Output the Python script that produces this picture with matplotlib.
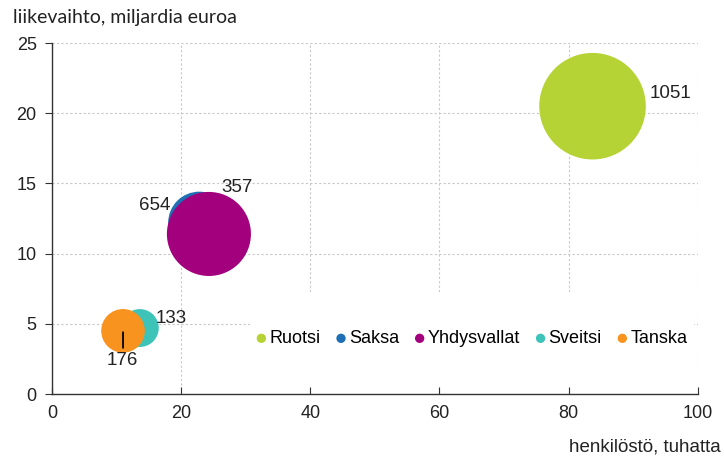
import matplotlib.pyplot as plt
from matplotlib.patches import Rectangle

# data
maat = ['Ruotsi', 'Saksa', 'Yhdysvallat', 'Sveitsi', 'Tanska']
henkilosto = [83.7, 22.8, 24.3, 13.6, 11.0]      # tuhatta
liikevaihto = [20.5, 12.2, 11.4, 4.7, 4.5]       # miljardia euroa
koko = [1051, 357, 654, 133, 176]                 # kuplan koko / arvo
varit = ['#B5D334', '#1F6FB4', '#A3007D', '#3EC3B9', '#F7931E']

# label offsets in pixels (dx, dy, ha)
siirrot = [(57, 13, 'left'), (22, 35, 'left'), (-39, 28, 'right'),
           (16, 10, 'left'), (-1, -30, 'center')]

plt.rcParams['font.family'] = ['Liberation Sans', 'DejaVu Sans']

fig = plt.figure(figsize=(7.24, 4.61), dpi=100)
ax = fig.add_axes([0.0718, 0.1453, 0.892, 0.7614])

for i in range(len(maat)):
    ax.scatter(henkilosto[i], liikevaihto[i], s=koko[i] * 5.6, color=varit[i],
               edgecolors='none', zorder=3, label=maat[i])

for i in range(len(maat)):
    dx, dy, ha = siirrot[i]
    ax.annotate(str(koko[i]), (henkilosto[i], liikevaihto[i]),
                xytext=(dx, dy), textcoords='offset pixels',
                ha=ha, va='center', fontsize=13.5, color='#222222', zorder=6)

# leader line for Tanska
ax.annotate('', (henkilosto[4], liikevaihto[4]), xytext=(0, -17),
            textcoords='offset pixels',
            arrowprops=dict(arrowstyle='-', color='black', lw=1.3,
                            shrinkA=0, shrinkB=1), zorder=6)

ax.set_xlim(0, 100)
ax.set_ylim(0, 25)
ax.set_xticks(range(0, 101, 20))
ax.set_yticks(range(0, 26, 5))
ax.grid(True, color='#c8c8c8', linestyle=(0, (2, 2)), linewidth=0.8, zorder=0)
ax.set_axisbelow(True)
for s in ['top', 'right']:
    ax.spines[s].set_visible(False)
for s in ['left', 'bottom']:
    ax.spines[s].set_color('#333333')
    ax.spines[s].set_linewidth(1.0)
ax.tick_params(axis='y', direction='out', length=5, labelsize=13,
               colors='#333333', labelcolor='#222222', pad=6)
ax.tick_params(axis='x', direction='in', length=5, labelsize=13,
               colors='#333333', labelcolor='#222222', pad=8)

# white area behind legend
ax.add_patch(Rectangle((0.307, 0.02), 0.687, 0.271, transform=ax.transAxes,
                       facecolor='white', edgecolor='none', zorder=1))

leg = ax.legend(loc='center right', bbox_to_anchor=(0.998, 0.158), ncol=5,
                frameon=False, fontsize=13, handletextpad=0.0,
                columnspacing=0.68, borderpad=0, markerscale=1,
                handlelength=0.9)
for h in leg.legend_handles:
    h.set_sizes([45])

fig.text(13 / 724, 1 - 17 / 461, 'liikevaihto, miljardia euroa',
         fontsize=14, family=['Lato', 'DejaVu Sans'], color='#222222',
         ha='left', va='center')
fig.text(721 / 724, 1 - 447 / 461, 'henkilöstö, tuhatta', fontsize=13.5,
         color='#222222', ha='right', va='center')

fig.savefig('out.png', dpi=100)
